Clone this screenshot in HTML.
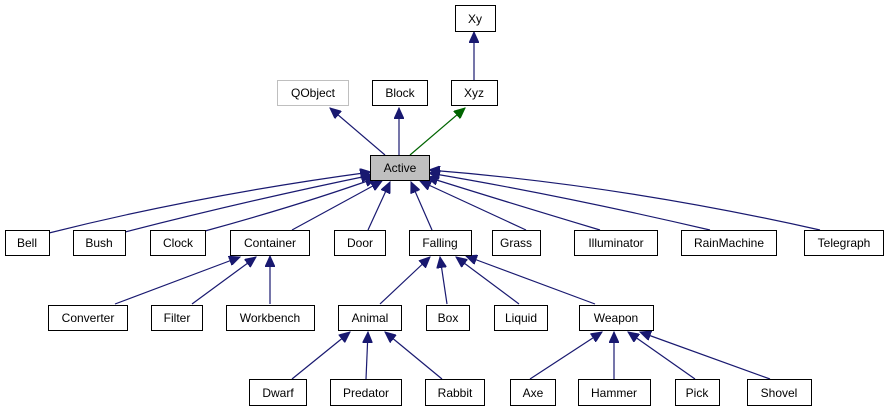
<!DOCTYPE html>
<html><head><style>
html,body{margin:0;padding:0;background:#fff;}
svg{display:block;font-family:"Liberation Sans",Helvetica,sans-serif;}
rect{fill:#fff;stroke:#000;stroke-width:1}
text{font-size:12px;text-anchor:middle;fill:#000}
path.e{fill:none;stroke:#191970;stroke-width:1.2}
</style></head><body>
<svg width="889" height="411" viewBox="0 0 889 411">
<defs>
<marker id="a" markerUnits="userSpaceOnUse" markerWidth="12" markerHeight="10" refX="11" refY="5" orient="auto"><path d="M0,0 L11,5 L0,10 z" fill="#191970" stroke="#191970"/></marker>
<marker id="g" markerUnits="userSpaceOnUse" markerWidth="12" markerHeight="10" refX="11" refY="5" orient="auto"><path d="M0,0 L11,5 L0,10 z" fill="#006400" stroke="#006400"/></marker>
</defs>
<g marker-end="url(#a)">
<path class="e" d="M474,80 L474,32"/>
<path class="e" d="M385,155 L330,108"/>
<path class="e" d="M399,155 L399,108"/>
<path class="e" d="M49,233 Q200,195 371,172"/>
<path class="e" d="M125,232 Q250,200 372,175"/>
<path class="e" d="M205,231 Q300,205 376,178"/>
<path class="e" d="M292,230 L382,181"/>
<path class="e" d="M368,230 L390,182"/>
<path class="e" d="M432,230 L411,182"/>
<path class="e" d="M526,230 L420,181"/>
<path class="e" d="M600,230 Q500,200 427,177"/>
<path class="e" d="M710,230 Q560,195 429,173"/>
<path class="e" d="M820,230 Q620,185 429,170"/>
<path class="e" d="M115,304 L240,257"/>
<path class="e" d="M192,304 L256,257"/>
<path class="e" d="M270,304 L270,256"/>
<path class="e" d="M380,304 L430,257"/>
<path class="e" d="M447,304 L440,257"/>
<path class="e" d="M519,304 L456,257"/>
<path class="e" d="M595,304 L466,256"/>
<path class="e" d="M292,379 L350,332"/>
<path class="e" d="M366,379 L368,332"/>
<path class="e" d="M442,379 L385,332"/>
<path class="e" d="M530,379 L602,332"/>
<path class="e" d="M614,379 L614,332"/>
<path class="e" d="M695,379 L628,332"/>
<path class="e" d="M770,379 L640,332"/>
</g>
<path d="M410,155 L465,108" style="fill:none;stroke:#006400;stroke-width:1.2" marker-end="url(#g)"/>

<rect x="455.5" y="5.5" width="40" height="26"/><text x="475" y="23">Xy</text>
<rect x="277.5" y="80.5" width="71" height="25" style="stroke:#bfbfbf"/><text x="313" y="97">QObject</text>
<rect x="372.5" y="80.5" width="55" height="25"/><text x="400" y="97">Block</text>
<rect x="451.5" y="80.5" width="46" height="25"/><text x="474" y="97">Xyz</text>
<rect x="370.5" y="155.5" width="59" height="25" style="fill:#bfbfbf"/><text x="400" y="172">Active</text>

<rect x="5.5" y="230.5" width="44" height="25"/><text x="27" y="247">Bell</text>
<rect x="73.5" y="230.5" width="52" height="25"/><text x="99" y="247">Bush</text>
<rect x="150.5" y="230.5" width="55" height="25"/><text x="178" y="247">Clock</text>
<rect x="230.5" y="230.5" width="79" height="25"/><text x="270" y="247">Container</text>
<rect x="334.5" y="230.5" width="51" height="25"/><text x="360" y="247">Door</text>
<rect x="409.5" y="230.5" width="62" height="25"/><text x="440" y="247">Falling</text>
<rect x="492.5" y="230.5" width="48" height="25"/><text x="516" y="247">Grass</text>
<rect x="574.5" y="230.5" width="83" height="25"/><text x="616" y="247">Illuminator</text>
<rect x="681.5" y="230.5" width="95" height="25"/><text x="729" y="247">RainMachine</text>
<rect x="804.5" y="230.5" width="79" height="25"/><text x="844" y="247">Telegraph</text>

<rect x="48.5" y="305.5" width="79" height="25"/><text x="88" y="322">Converter</text>
<rect x="151.5" y="305.5" width="51" height="25"/><text x="177" y="322">Filter</text>
<rect x="226.5" y="305.5" width="88" height="25"/><text x="270" y="322">Workbench</text>
<rect x="338.5" y="305.5" width="63" height="25"/><text x="370" y="322">Animal</text>
<rect x="426.5" y="305.5" width="43" height="25"/><text x="448" y="322">Box</text>
<rect x="494.5" y="305.5" width="53" height="25"/><text x="521" y="322">Liquid</text>
<rect x="579.5" y="305.5" width="74" height="25"/><text x="616" y="322">Weapon</text>

<rect x="249.5" y="379.5" width="57" height="26"/><text x="278" y="397">Dwarf</text>
<rect x="330.5" y="379.5" width="71" height="26"/><text x="366" y="397">Predator</text>
<rect x="425.5" y="379.5" width="59" height="26"/><text x="455" y="397">Rabbit</text>
<rect x="510.5" y="379.5" width="45" height="26"/><text x="533" y="397">Axe</text>
<rect x="578.5" y="379.5" width="72" height="26"/><text x="614" y="397">Hammer</text>
<rect x="675.5" y="379.5" width="44" height="26"/><text x="697" y="397">Pick</text>
<rect x="747.5" y="379.5" width="64" height="26"/><text x="779" y="397">Shovel</text>
</svg>
</body></html>
